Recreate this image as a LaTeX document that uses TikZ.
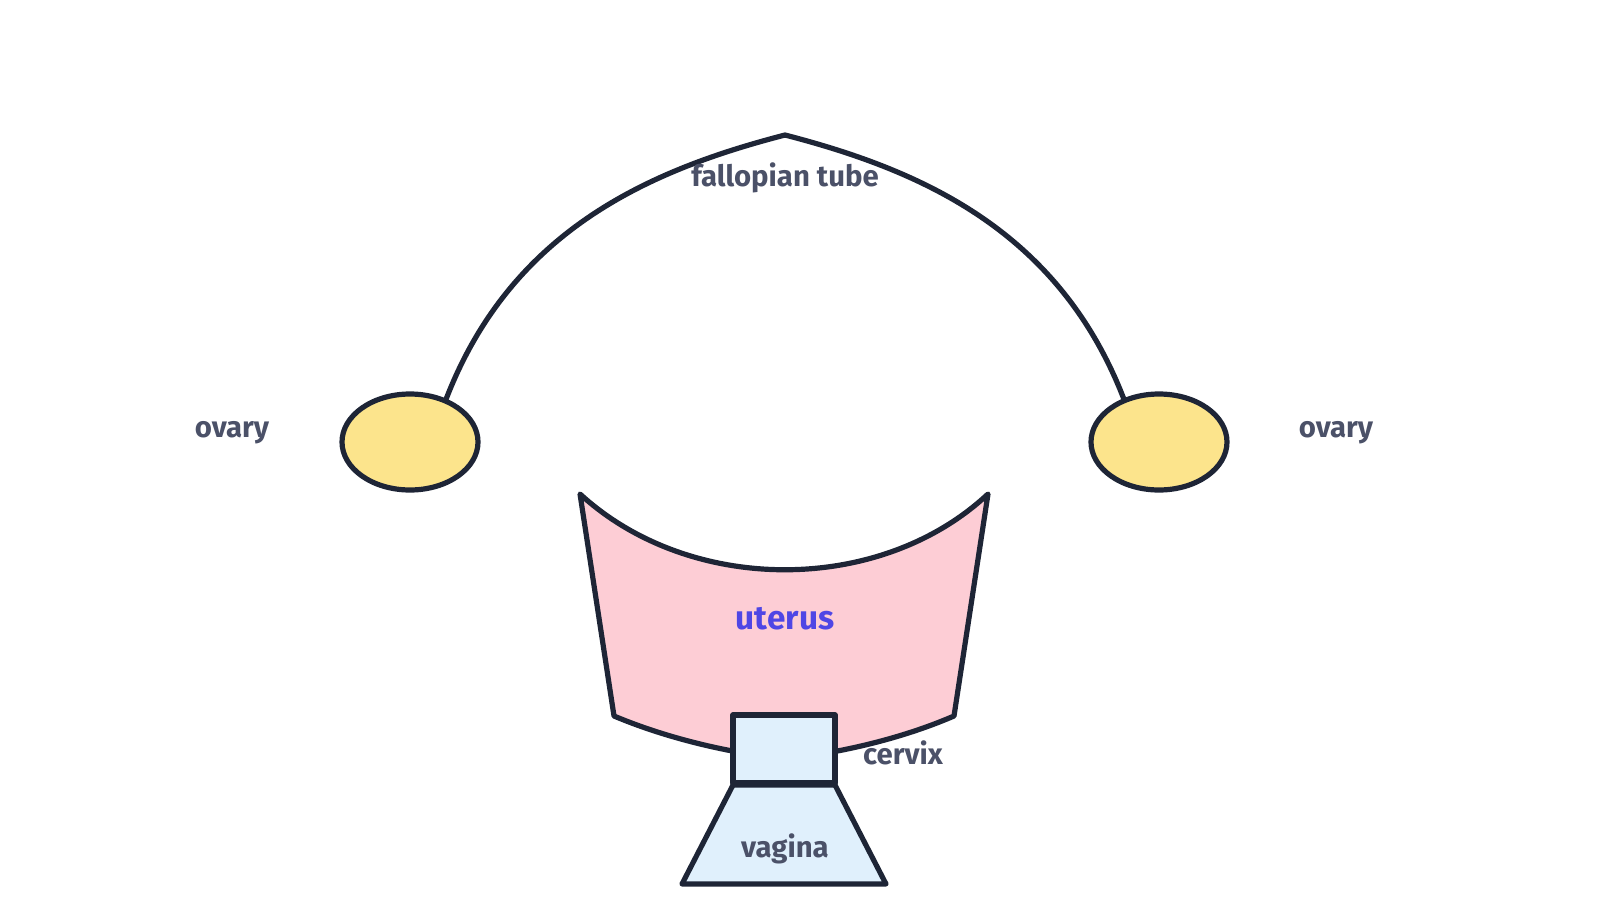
\documentclass[tikz,border=0pt]{standalone}
\usepackage{fontspec}
\setmainfont{Fira Sans}
\usetikzlibrary{shapes.geometric}
\begin{document}
\begin{tikzpicture}[x=0.75pt,y=-0.75pt,
  ln/.style={draw=lc,line width=3.9pt,line join=round},
  lab/.style={text=tc,font=\fontsize{22}{26}\selectfont\bfseries}]
\definecolor{lc}{HTML}{1E2536}
\definecolor{tc}{HTML}{4B5168}
\useasboundingbox (0,0) rectangle (1600,904);
\draw[ln] (445,402) .. controls (510,230) and (650,170) .. (785,135)
  .. controls (920,170) and (1060,230) .. (1125,402);
\node[ln,ellipse,fill={rgb,255:red,252;green,228;blue,140},minimum width=102pt,minimum height=72pt,inner sep=0] (ovl) at (410,442) {};
\node[ln,ellipse,fill={rgb,255:red,252;green,228;blue,140},minimum width=102pt,minimum height=72pt,inner sep=0] (ovr) at (1159,442) {};
\filldraw[ln,fill={rgb,255:red,253;green,205;blue,213}] (580,494) .. controls (690,595) and (880,595) .. (988,494)
  -- (954,716) .. controls (880,748) and (800,758) .. (785,758) .. controls (770,758) and (690,748) .. (614,716) -- cycle;
\node[ln,fill={rgb,255:red,224;green,240;blue,252},minimum width=76.5pt,minimum height=51pt,inner sep=0] (cx) at (784,749) {};
\filldraw[ln,fill={rgb,255:red,224;green,240;blue,252}] (733,785) -- (835,785) -- (886,884) -- (682,884) -- cycle;
\node[lab] (ft) at (785,178) {fallopian tube};
\node[lab] (o1) at (232,433) {ovary};
\node[lab] (o2) at (1336,433) {ovary};
\node[lab,text={rgb,255:red,79;green,70;blue,229},font=\fontsize{25}{29}\selectfont\bfseries] (ut) at (785,619) {uterus};
\node[lab] (cv) at (903,753) {cervix};
\node[lab] (vg) at (785,849) {vagina};
\end{tikzpicture}
\end{document}
